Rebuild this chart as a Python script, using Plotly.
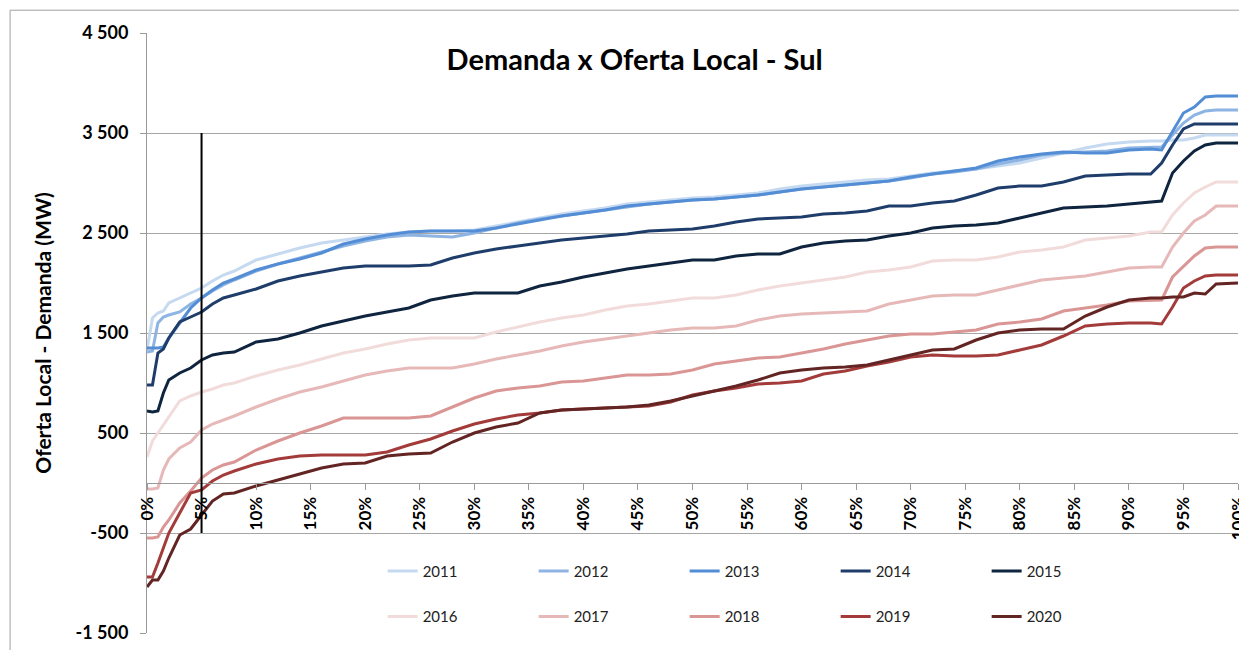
import plotly.graph_objects as go

# Share of time (%) - common x grid
pct = [0, 0.5, 1, 1.5, 2, 3, 4, 5, 6, 7, 8, 10, 12, 14, 16, 18, 20, 22, 24, 26, 28, 30,
       32, 34, 36, 38, 40, 42, 44, 46, 48, 50, 52, 54, 56, 58, 60, 62, 64, 66, 68, 70,
       72, 74, 76, 78, 80, 82, 84, 86, 88, 90, 92, 93, 94, 95, 96, 97, 98, 100]

y2011 = [1330, 1650, 1700, 1720, 1800, 1850, 1900, 1950, 2020, 2080, 2120, 2230, 2290, 2350, 2400, 2430, 2460, 2490, 2510, 2520, 2520, 2530,
         2570, 2610, 2650, 2690, 2720, 2750, 2790, 2810, 2830, 2850, 2860, 2880, 2900, 2940, 2970, 2990, 3010, 3030, 3040, 3070,
         3100, 3120, 3140, 3170, 3200, 3250, 3300, 3350, 3390, 3410, 3420, 3420, 3430, 3430, 3450, 3480, 3480, 3480]
y2012 = [1310, 1320, 1600, 1660, 1680, 1710, 1790, 1850, 1920, 1980, 2030, 2120, 2190, 2250, 2310, 2370, 2420, 2460, 2480, 2470, 2460, 2500,
         2550, 2600, 2640, 2670, 2700, 2730, 2760, 2790, 2810, 2830, 2840, 2860, 2880, 2910, 2940, 2960, 2980, 3000, 3020, 3050,
         3090, 3110, 3140, 3190, 3230, 3280, 3300, 3310, 3320, 3350, 3360, 3360, 3480, 3600, 3680, 3720, 3730, 3730]
y2013 = [1350, 1350, 1350, 1360, 1450, 1600, 1750, 1850, 1930, 2000, 2040, 2130, 2190, 2240, 2300, 2390, 2440, 2480, 2510, 2520, 2520, 2520,
         2550, 2590, 2630, 2670, 2700, 2730, 2770, 2790, 2810, 2830, 2840, 2860, 2880, 2910, 2940, 2960, 2980, 3000, 3020, 3060,
         3090, 3120, 3150, 3220, 3260, 3290, 3310, 3300, 3300, 3330, 3340, 3330, 3520, 3700, 3760, 3860, 3870, 3870]
y2014 = [980, 980, 1300, 1340, 1450, 1610, 1660, 1710, 1790, 1850, 1880, 1940, 2020, 2070, 2110, 2150, 2170, 2170, 2170, 2180, 2250, 2300,
         2340, 2370, 2400, 2430, 2450, 2470, 2490, 2520, 2530, 2540, 2570, 2610, 2640, 2650, 2660, 2690, 2700, 2720, 2770, 2770,
         2800, 2820, 2880, 2950, 2970, 2970, 3010, 3070, 3080, 3090, 3090, 3200, 3380, 3540, 3590, 3590, 3590, 3590]
y2015 = [720, 710, 720, 900, 1030, 1100, 1150, 1230, 1280, 1300, 1310, 1410, 1440, 1500, 1570, 1620, 1670, 1710, 1750, 1830, 1870, 1900,
         1900, 1900, 1970, 2010, 2060, 2100, 2140, 2170, 2200, 2230, 2230, 2270, 2290, 2290, 2360, 2400, 2420, 2430, 2470, 2500,
         2550, 2570, 2580, 2600, 2650, 2700, 2750, 2760, 2770, 2790, 2810, 2820, 3100, 3220, 3320, 3380, 3400, 3400]
y2016 = [260, 420, 500, 580, 670, 820, 870, 910, 940, 980, 1000, 1070, 1130, 1180, 1240, 1300, 1340, 1390, 1430, 1450, 1450, 1450,
         1510, 1560, 1610, 1650, 1680, 1730, 1770, 1790, 1820, 1850, 1850, 1880, 1930, 1970, 2000, 2030, 2060, 2110, 2130, 2160,
         2220, 2230, 2230, 2260, 2310, 2330, 2360, 2430, 2450, 2470, 2510, 2510, 2680, 2800, 2900, 2960, 3010, 3010]
y2017 = [-60, -60, -50, 130, 240, 350, 410, 530, 590, 630, 670, 760, 840, 910, 960, 1020, 1080, 1120, 1150, 1150, 1150, 1190,
         1240, 1280, 1320, 1370, 1410, 1440, 1470, 1500, 1530, 1550, 1550, 1570, 1630, 1670, 1690, 1700, 1710, 1720, 1790, 1830,
         1870, 1880, 1880, 1930, 1980, 2030, 2050, 2070, 2110, 2150, 2160, 2160, 2360, 2500, 2620, 2680, 2770, 2770]
y2018 = [-550, -550, -540, -440, -370, -200, -80, 50, 130, 180, 210, 330, 420, 500, 570, 650, 650, 650, 650, 670, 760, 850,
         920, 950, 970, 1010, 1020, 1050, 1080, 1080, 1090, 1130, 1190, 1220, 1250, 1260, 1300, 1340, 1390, 1430, 1470, 1490,
         1490, 1510, 1530, 1590, 1610, 1640, 1720, 1750, 1780, 1820, 1830, 1830, 2060, 2170, 2270, 2350, 2360, 2360]
y2019 = [-940, -940, -800, -640, -500, -300, -100, -70, 20, 80, 120, 190, 240, 270, 280, 280, 280, 310, 380, 440, 520, 590,
         640, 680, 700, 730, 740, 750, 760, 770, 810, 880, 920, 950, 990, 1000, 1020, 1090, 1120, 1170, 1210, 1260,
         1280, 1270, 1270, 1280, 1330, 1380, 1470, 1570, 1590, 1600, 1600, 1590, 1760, 1950, 2020, 2070, 2080, 2080]
y2020 = [-1040, -970, -970, -880, -750, -520, -460, -320, -180, -110, -100, -30, 30, 90, 150, 190, 200, 270, 290, 300, 410, 500,
         560, 600, 700, 730, 740, 750, 760, 780, 820, 870, 920, 970, 1030, 1100, 1130, 1150, 1160, 1180, 1230, 1280,
         1330, 1340, 1430, 1500, 1530, 1540, 1540, 1670, 1760, 1830, 1850, 1850, 1860, 1860, 1900, 1890, 1990, 2000]

years = ["2011", "2012", "2013", "2014", "2015", "2016", "2017", "2018", "2019", "2020"]
series = [y2011, y2012, y2013, y2014, y2015, y2016, y2017, y2018, y2019, y2020]
colors = ["#c5d9f1", "#8db4e2", "#538dd5", "#1f3d6b", "#0f243e",
          "#f2dcdb", "#e6b9b8", "#da9694", "#a33b3b", "#632523"]

y_ticks = [-1500, -500, 500, 1500, 2500, 3500, 4500]
y_ticktext = ["-1 500", "-500", "500", "1 500", "2 500", "3 500", "4 500"]
x_ticks = list(range(0, 101, 5))
x_ticktext = [f"{v}%" for v in x_ticks]

ref_pct = 5
ref_top, ref_bottom = 3500, -500

FONT = "Lato, 'Open Sans', sans-serif"

fig = go.Figure()
for i, (yr, ys, c) in enumerate(zip(years, series, colors)):
    fig.add_trace(go.Scatter(
        x=pct, y=ys, name=yr, mode="lines",
        line=dict(color=c, width=3),
        legend="legend" if i < 5 else "legend2",
    ))

fig.add_shape(type="line", xref="x", yref="y", x0=ref_pct, x1=ref_pct,
              y0=ref_top, y1=ref_bottom, line=dict(color="black", width=2))

# outer chart border
fig.add_shape(type="rect", xref="paper", yref="paper",
              x0=-0.1255, x1=1.05, y0=-0.06, y1=1.038,
              line=dict(color="#a0a0a0", width=1), layer="below")

y_min, y_max = -1500, 4500
legend_common = dict(orientation="h", font=dict(family=FONT, size=15, color="#222"),
                     entrywidth=106, entrywidthmode="pixels", bgcolor="rgba(0,0,0,0)",
                     xanchor="left", yanchor="middle", itemwidth=30, tracegroupgap=0)

fig.update_layout(
    width=1239, height=642,
    margin=dict(l=139, r=9, t=25, b=17),
    paper_bgcolor="white", plot_bgcolor="white",
    font=dict(family=FONT, color="black"),
    title=dict(text="<b>Demanda x Oferta Local - Sul</b>", font=dict(family=FONT, size=29, color="black"),
               x=0.447, xref="paper", xanchor="center", y=0.919, yref="container", yanchor="middle"),
    xaxis=dict(range=[0, 100], tickvals=x_ticks, ticktext=x_ticktext, tickangle=-90,
               tickfont=dict(family=FONT, size=17, color="black", weight="bold"),
               showgrid=False, zeroline=False, showline=True, linecolor="#9a9a9a", linewidth=1,
               ticks="outside", ticklen=6, tickcolor="#9a9a9a", automargin=False,
               ticklabeloverflow="allow",
               anchor="free", position=(0 - y_min) / (y_max - y_min)),
    yaxis=dict(range=[y_min, y_max], tickvals=y_ticks, ticktext=y_ticktext,
               tickfont=dict(family=FONT, size=18, color="black", weight="bold"),
               showgrid=True, gridcolor="#a6a6a6", gridwidth=1, zeroline=False,
               showline=True, linecolor="#9a9a9a", linewidth=1, automargin=False,
               ticks="outside", ticklen=6, tickcolor="#9a9a9a", ticklabelstandoff=8,
               title=dict(text="<b>Oferta Local - Demanda (MW)</b>", font=dict(family=FONT, size=21, color="black"),
                          standoff=18)),
    legend=dict(x=0.216, y=0.103, **legend_common),
    legend2=dict(x=0.216, y=0.027, **legend_common),
    showlegend=True,
)

fig.write_html("out.html")
